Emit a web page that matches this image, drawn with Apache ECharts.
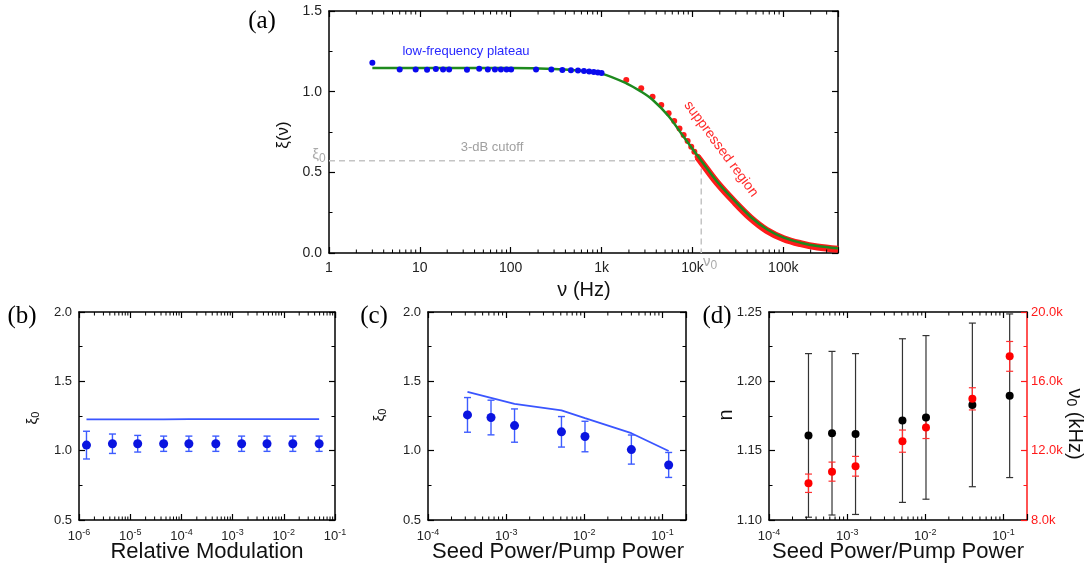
<!DOCTYPE html>
<html><head><meta charset="utf-8">
<script src="https://cdn.jsdelivr.net/npm/echarts@6/dist/echarts.min.js"></script>
<style>html,body{margin:0;padding:0;background:#fff}#c{width:1091px;height:569px}</style>
</head><body><div id="c"></div>
<script>
// ---------- Panel (a) data ----------
const aBlueFreq = [3,6,9,12,15,18,21,33,45,56,67,78,90,101,190,280,370,460,550,640,730,820,910,1000];
const aBlueVal  = [1.18,1.138,1.138,1.136,1.140,1.138,1.138,1.136,1.142,1.138,1.138,1.138,1.138,1.138,1.138,1.137,1.135,1.133,1.131,1.128,1.125,1.122,1.119,1.116];
const aRedFreq  = [1870,2730,3640,4540,5470,6300,7200,8000,8850,9700,10500,11400];
const aRedVal   = [1.072,1.021,0.969,0.917,0.866,0.818,0.771,0.731,0.694,0.659,0.628,0.597];
const aBandFreq = [11400,12500,18700,28500,43500,66000,101000,155000,237000,400000];
const aBandVal  = [0.594,0.565,0.435,0.321,0.218,0.140,0.089,0.058,0.037,0.023];
const aFitFreq  = [3,10,100,300,600,1000,1870,2730,3640,5470,8000,12500,18700,28500,43500,66000,101000,155000,237000,400000];
const aFitVal   = [1.147,1.147,1.146,1.140,1.129,1.112,1.052,1.000,0.950,0.848,0.720,0.572,0.442,0.329,0.225,0.147,0.095,0.064,0.043,0.029];
const cutoffFreq = 12500, cutoffXi = 0.572;
const aXLabels = {1:'1',10:'10',100:'100',1000:'1k',10000:'10k',100000:'100k'};
// ---------- Panel (b) data ----------
const bX      = [1.4e-6,4.5e-6,1.4e-5,4.5e-5,1.4e-4,4.7e-4,1.5e-3,4.7e-3,1.5e-2,4.9e-2];
const bXi     = [1.04,1.05,1.05,1.05,1.05,1.05,1.05,1.05,1.05,1.05];
const bErr    = [0.10,0.07,0.06,0.055,0.055,0.055,0.055,0.055,0.055,0.055];
const bTheory = [1.225,1.225,1.225,1.226,1.227,1.227,1.227,1.228,1.228,1.228];
// ---------- Panel (c) data ----------
const cX      = [3.2e-4,6.4e-4,1.28e-3,5.1e-3,1.02e-2,4.0e-2,0.12];
const cXi     = [1.258,1.239,1.181,1.136,1.102,1.008,0.897];
const cErr    = [0.125,0.125,0.12,0.11,0.11,0.105,0.09];
const cTheory = [1.424,1.381,1.338,1.290,1.234,1.126,0.998];
// ---------- Panel (d) data ----------
const dX      = [3.2e-4,6.4e-4,1.28e-3,5.1e-3,1.02e-2,4.0e-2,0.12];
const dN      = [1.161,1.1626,1.162,1.1717,1.174,1.183,1.1896];
const dNErr   = [0.059,0.059,0.058,0.059,0.059,0.059,0.059];
const dNu0    = [10120,10790,11100,12550,13340,14990,17440];
const dNu0Err = [530,550,570,640,640,640,860];
// ---------- log-axis decades (for minor ticks 2..9) ----------
const aDecades = [1, 10, 100, 1000, 10000, 100000];
const bDecades = [1e-6, 1e-5, 1e-4, 1e-3, 1e-2];
const cDecades = [1e-4, 1e-3, 1e-2, 1e-1];
const minorMult = [2, 3, 4, 5, 6, 7, 8, 9];

const FONT = "'Liberation Sans', Arial, sans-serif";
const SERIF = "'Liberation Serif', 'Times New Roman', serif";
const zip = (xs, ys) => xs.map((x, i) => [x, ys[i]]);
const errData = (xs, ys, es) => xs.map((x, i) => [x, ys[i] - es[i], ys[i] + es[i]]);
const minorVals = (decs, max) => decs.flatMap(d => minorMult.map(m => m * d)).filter(v => v < max);

function isPow10(v) { const l = Math.log10(v); return Math.abs(l - Math.round(l)) < 1e-6; }
const tickStyle = (color) => ({ show: true, inside: true, length: 6, lineStyle: { color: color, width: 1.2 } });
const minorStyle = (color, n) => ({ show: true, splitNumber: n, length: 3.5, lineStyle: { color: color, width: 1 } });
const lineStyle = (color) => ({ show: true, onZero: false, lineStyle: { color: color, width: 1.5 } });

function logX(grid, min, max, pos, labelFn, fs) {
  fs = fs || 13;
  return {
    type: 'log', logBase: 10, gridIndex: grid, min: min, max: max, position: pos,
    axisLine: lineStyle('#000'), axisTick: tickStyle('#000'), minorTick: { show: false },
    splitLine: { show: false }, minorSplitLine: { show: false },
    axisLabel: labelFn ? {
      show: true, margin: 8, color: '#222', fontFamily: FONT, fontSize: fs, formatter: labelFn, showMinLabel: true, showMaxLabel: true,
      rich: { b: { fontSize: 13, fontFamily: FONT, color: '#222', lineHeight: 16 },
              s: { fontSize: 9, fontFamily: FONT, color: '#222', verticalAlign: 'top', lineHeight: 10 } }
    } : { show: false }
  };
}
function valY(grid, min, max, interval, pos, fmt, color, fs) {
  color = color || '#000';
  return {
    type: 'value', gridIndex: grid, min: min, max: max, interval: interval, position: pos,
    axisLine: lineStyle(color), axisTick: tickStyle(color), minorTick: minorStyle(color, 2),
    splitLine: { show: false },
    axisLabel: fmt ? { show: true, margin: pos === 'right' ? 4 : 7, color: color === '#000' ? '#222' : color, fontFamily: FONT, fontSize: fs || 13, formatter: fmt } : { show: false }
  };
}
const supLabel = v => isPow10(v) ? '{b|10}{s|' + Math.round(Math.log10(v)) + '}' : '';
const aLabel = v => { if (!isPow10(v)) return ''; return aXLabels[Math.round(v)] || ''; };

function errRender(capW, color, width) {
  return function (params, api) {
    const x = api.value(0), lo = api.value(1), hi = api.value(2);
    const p1 = api.coord([x, lo]), p2 = api.coord([x, hi]);
    const st = { stroke: color, lineWidth: width };
    return { type: 'group', children: [
      { type: 'line', shape: { x1: p1[0], y1: p1[1], x2: p2[0], y2: p2[1] }, style: st },
      { type: 'line', shape: { x1: p1[0] - capW, y1: p1[1], x2: p1[0] + capW, y2: p1[1] }, style: st },
      { type: 'line', shape: { x1: p2[0] - capW, y1: p2[1], x2: p2[0] + capW, y2: p2[1] }, style: st }
    ] };
  };
}
// minor ticks of log axes, drawn at tick values through the axis scale (bottom and top, pointing inward)
function minorTickSeries(xi, yi, vals, yMin, yMax) {
  return {
    type: 'custom', xAxisIndex: xi, yAxisIndex: yi, silent: true, clip: false, z: 10,
    data: vals.map(v => [v, yMin, yMax]), encode: { x: 0, y: 1 },
    renderItem: function (params, api) {
      const v = api.value(0);
      const b = api.coord([v, api.value(1)]), t = api.coord([v, api.value(2)]);
      const st = { stroke: '#000', lineWidth: 1 };
      return { type: 'group', children: [
        { type: 'line', shape: { x1: b[0], y1: b[1], x2: b[0], y2: b[1] - 3.5 }, style: st },
        { type: 'line', shape: { x1: t[0], y1: t[1], x2: t[0], y2: t[1] + 3.5 }, style: st }
      ] };
    }
  };
}

const gText = (x, y, text, opts) => ({
  type: 'text', x: x, y: y, rotation: (opts && opts.rot) || 0,
  style: Object.assign({ text: text, align: 'center', verticalAlign: 'middle', fontFamily: FONT, fontSize: 13, fill: '#222' }, (opts && opts.style) || {})
});
const subRich = (size, subSize, color, pad) => ({
  a: { fontSize: size, fontFamily: FONT, fill: color },
  s: { fontSize: subSize, fontFamily: FONT, fill: color, verticalAlign: 'bottom', padding: [pad, 0, 0, 0] }
});

const chart = echarts.init(document.getElementById('c'), null, { renderer: 'canvas' });
chart.setOption({
  animation: false,
  backgroundColor: '#fff',
  grid: [
    { left: 329, top: 11, width: 509, height: 242 },
    { left: 79, top: 312, width: 256, height: 208 },
    { left: 428, top: 312, width: 258, height: 208 },
    { left: 769, top: 312, width: 258, height: 208 }
  ],
  xAxis: [
    logX(0, 1, 400000, 'bottom', aLabel, 14), logX(0, 1, 400000, 'top', null),
    logX(1, 1e-6, 0.1, 'bottom', supLabel), logX(1, 1e-6, 0.1, 'top', null),
    logX(2, 1e-4, 0.2, 'bottom', supLabel), logX(2, 1e-4, 0.2, 'top', null),
    logX(3, 1e-4, 0.2, 'bottom', supLabel), logX(3, 1e-4, 0.2, 'top', null)
  ],
  yAxis: [
    valY(0, 0, 1.5, 0.5, 'left', v => v.toFixed(1), null, 14), valY(0, 0, 1.5, 0.5, 'right', null),
    valY(1, 0.5, 2.0, 0.5, 'left', v => v.toFixed(1)), valY(1, 0.5, 2.0, 0.5, 'right', null),
    valY(2, 0.5, 2.0, 0.5, 'left', v => v.toFixed(1)), valY(2, 0.5, 2.0, 0.5, 'right', null),
    valY(3, 1.10, 1.25, 0.05, 'left', v => v.toFixed(2)),
    valY(3, 8000, 20000, 4000, 'right', v => (v / 1000).toFixed(1) + 'k', '#ff1a1a')
  ],
  series: [
    // minor ticks on log axes
    minorTickSeries(0, 0, minorVals(aDecades, 400000), 0, 1.5),
    minorTickSeries(2, 2, minorVals(bDecades, 0.1), 0.5, 2.0),
    minorTickSeries(4, 4, minorVals(cDecades, 0.2), 0.5, 2.0),
    minorTickSeries(6, 6, minorVals(cDecades, 0.2), 1.10, 1.25),
    // (a)
    { type: 'line', xAxisIndex: 0, yAxisIndex: 0, data: [[1, cutoffXi], [cutoffFreq, cutoffXi], [cutoffFreq, 0]],
      symbol: 'none', lineStyle: { color: '#c4c4c4', width: 1.5, type: [6, 4] }, z: 1 },
    { type: 'line', xAxisIndex: 0, yAxisIndex: 0, data: zip(aBandFreq, aBandVal), smooth: 0.35,
      symbol: 'none', lineStyle: { color: '#ff1a1a', width: 7 }, z: 2 },
    { type: 'scatter', xAxisIndex: 0, yAxisIndex: 0, data: zip(aRedFreq, aRedVal), symbolSize: 6,
      itemStyle: { color: '#ff1a1a', opacity: 1 }, z: 3 },
    { type: 'line', xAxisIndex: 0, yAxisIndex: 0, data: zip(aFitFreq, aFitVal), smooth: 0.35,
      symbol: 'none', lineStyle: { color: '#1e8a1e', width: 2.5 }, z: 4 },
    { type: 'scatter', xAxisIndex: 0, yAxisIndex: 0, data: zip(aBlueFreq, aBlueVal), symbolSize: 6,
      itemStyle: { color: '#0a0aee', opacity: 1 }, z: 5 },
    // (b)
    { type: 'line', xAxisIndex: 2, yAxisIndex: 2, data: zip(bX, bTheory), symbol: 'none',
      lineStyle: { color: '#3a55ff', width: 1.8 } },
    { type: 'custom', xAxisIndex: 2, yAxisIndex: 2, data: errData(bX, bXi, bErr), encode: { x: 0, y: [1, 2] },
      renderItem: errRender(3.5, '#3d5cff', 1.4) },
    { type: 'scatter', xAxisIndex: 2, yAxisIndex: 2, data: zip(bX, bXi), symbolSize: 9, itemStyle: { color: '#0a14e0', opacity: 1 } },
    // (c)
    { type: 'line', xAxisIndex: 4, yAxisIndex: 4, data: zip(cX, cTheory), symbol: 'none',
      lineStyle: { color: '#3a55ff', width: 1.8 } },
    { type: 'custom', xAxisIndex: 4, yAxisIndex: 4, data: errData(cX, cXi, cErr), encode: { x: 0, y: [1, 2] },
      renderItem: errRender(3.5, '#3d5cff', 1.4) },
    { type: 'scatter', xAxisIndex: 4, yAxisIndex: 4, data: zip(cX, cXi), symbolSize: 9, itemStyle: { color: '#0a14e0', opacity: 1 } },
    // (d)
    { type: 'custom', xAxisIndex: 6, yAxisIndex: 6, data: errData(dX, dN, dNErr), encode: { x: 0, y: [1, 2] },
      renderItem: errRender(3.5, '#333', 1.2) },
    { type: 'scatter', xAxisIndex: 6, yAxisIndex: 6, data: zip(dX, dN), symbolSize: 8, itemStyle: { color: '#000', opacity: 1 } },
    { type: 'custom', xAxisIndex: 6, yAxisIndex: 7, data: errData(dX, dNu0, dNu0Err), encode: { x: 0, y: [1, 2] },
      renderItem: errRender(3.5, '#ff3030', 1.2) },
    { type: 'scatter', xAxisIndex: 6, yAxisIndex: 7, data: zip(dX, dNu0), symbolSize: 8, itemStyle: { color: '#ff0000', opacity: 1 } }
  ],
  graphic: [
    // panel letters
    gText(262, 21, '(a)', { style: { fontFamily: SERIF, fontSize: 25, fill: '#000' } }),
    gText(22, 316, '(b)', { style: { fontFamily: SERIF, fontSize: 25, fill: '#000' } }),
    gText(374, 316, '(c)', { style: { fontFamily: SERIF, fontSize: 25, fill: '#000' } }),
    gText(717, 316, '(d)', { style: { fontFamily: SERIF, fontSize: 25, fill: '#000' } }),
    // axis titles
    gText(584, 290, 'ν (Hz)', { style: { fontSize: 20, fill: '#111' } }),
    gText(283, 135, 'ξ(ν)', { rot: Math.PI / 2, style: { fontSize: 17, fill: '#111' } }),
    gText(207, 552, 'Relative Modulation', { style: { fontSize: 22, fill: '#111' } }),
    gText(558, 552, 'Seed Power/Pump Power', { style: { fontSize: 22, fill: '#111' } }),
    gText(898, 552, 'Seed Power/Pump Power', { style: { fontSize: 22, fill: '#111' } }),
    gText(33, 418, '{a|ξ}{s|0}', { rot: Math.PI / 2, style: { rich: subRich(15, 11, '#111', 6) } }),
    gText(380, 415, '{a|ξ}{s|0}', { rot: Math.PI / 2, style: { rich: subRich(15, 11, '#111', 6) } }),
    gText(726, 415, 'n', { rot: Math.PI / 2, style: { fontSize: 20, fill: '#111' } }),
    gText(1075, 424, '{a|ν}{s|0}{a| (kHz)}', { rot: -Math.PI / 2, style: { rich: subRich(20, 14, '#111', 8) } }),
    // annotations in (a)
    gText(466, 51, 'low-frequency plateau', { style: { fontSize: 13, fill: '#2828ff' } }),
    gText(492, 147, '3-dB cutoff', { style: { fontSize: 13, fill: '#a0a0a0' } }),
    gText(721, 149, 'suppressed region', { rot: -53.6 * Math.PI / 180, style: { fontSize: 14, fill: '#ff2a2a' } }),
    gText(319, 155, '{a|ξ}{s|0}', { style: { rich: subRich(15, 12, '#aaa', 8) } }),
    gText(710, 262, '{a|ν}{s|0}', { style: { rich: subRich(15, 12, '#aaa', 8) } })
  ]
});
</script>
</body></html>
